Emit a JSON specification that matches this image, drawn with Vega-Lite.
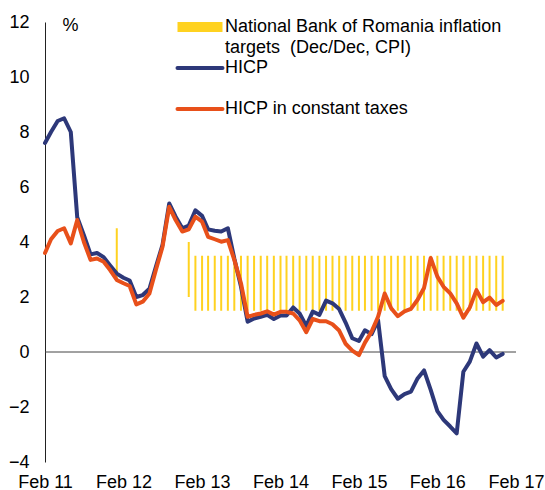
{
  "$schema": "https://vega.github.io/schema/vega-lite/v6.json",
  "width": 471,
  "height": 440,
  "autosize": {"type": "none"},
  "padding": {"left": 45, "top": 22, "right": 29, "bottom": 28},
  "background": "white",
  "config": {
    "font": "Liberation Sans",
    "view": {"stroke": null},
    "axis": {"labelFont": "Liberation Sans", "labelFontSize": 18, "labelColor": "#000", "titleFont": "Liberation Sans", "titleColor": "#000"},
    "legend": {"labelFont": "Liberation Sans", "labelColor": "#000"}
  },
  "datasets": {
    "series": [
      {"date": "2011-02-01", "HICP": 7.6, "HICP in constant taxes": 3.6},
      {"date": "2011-03-01", "HICP": 8.0, "HICP in constant taxes": 4.1},
      {"date": "2011-04-01", "HICP": 8.4, "HICP in constant taxes": 4.4},
      {"date": "2011-05-01", "HICP": 8.5, "HICP in constant taxes": 4.5},
      {"date": "2011-06-01", "HICP": 8.0, "HICP in constant taxes": 3.95},
      {"date": "2011-07-01", "HICP": 4.9, "HICP in constant taxes": 4.8},
      {"date": "2011-08-01", "HICP": 4.25, "HICP in constant taxes": 4.0},
      {"date": "2011-09-01", "HICP": 3.55, "HICP in constant taxes": 3.35},
      {"date": "2011-10-01", "HICP": 3.6, "HICP in constant taxes": 3.4},
      {"date": "2011-11-01", "HICP": 3.45, "HICP in constant taxes": 3.28},
      {"date": "2011-12-01", "HICP": 3.15, "HICP in constant taxes": 2.98},
      {"date": "2012-01-01", "HICP": 2.85, "HICP in constant taxes": 2.62},
      {"date": "2012-02-01", "HICP": 2.7, "HICP in constant taxes": 2.5},
      {"date": "2012-03-01", "HICP": 2.6, "HICP in constant taxes": 2.4},
      {"date": "2012-04-01", "HICP": 2.0, "HICP in constant taxes": 1.73},
      {"date": "2012-05-01", "HICP": 2.07, "HICP in constant taxes": 1.83},
      {"date": "2012-06-01", "HICP": 2.3, "HICP in constant taxes": 2.13},
      {"date": "2012-07-01", "HICP": 3.1, "HICP in constant taxes": 2.98},
      {"date": "2012-08-01", "HICP": 3.9, "HICP in constant taxes": 3.83},
      {"date": "2012-09-01", "HICP": 5.4, "HICP in constant taxes": 5.28},
      {"date": "2012-10-01", "HICP": 4.92, "HICP in constant taxes": 4.8},
      {"date": "2012-11-01", "HICP": 4.5, "HICP in constant taxes": 4.38},
      {"date": "2012-12-01", "HICP": 4.6, "HICP in constant taxes": 4.46},
      {"date": "2013-01-01", "HICP": 5.15, "HICP in constant taxes": 4.92},
      {"date": "2013-02-01", "HICP": 4.95, "HICP in constant taxes": 4.74},
      {"date": "2013-03-01", "HICP": 4.46, "HICP in constant taxes": 4.19},
      {"date": "2013-04-01", "HICP": 4.41, "HICP in constant taxes": 4.1},
      {"date": "2013-05-01", "HICP": 4.38, "HICP in constant taxes": 4.01},
      {"date": "2013-06-01", "HICP": 4.5, "HICP in constant taxes": 4.07},
      {"date": "2013-07-01", "HICP": 3.4, "HICP in constant taxes": 3.35},
      {"date": "2013-08-01", "HICP": 2.38, "HICP in constant taxes": 2.5},
      {"date": "2013-09-01", "HICP": 1.1, "HICP in constant taxes": 1.28},
      {"date": "2013-10-01", "HICP": 1.22, "HICP in constant taxes": 1.35},
      {"date": "2013-11-01", "HICP": 1.28, "HICP in constant taxes": 1.4},
      {"date": "2013-12-01", "HICP": 1.35, "HICP in constant taxes": 1.48},
      {"date": "2014-01-01", "HICP": 1.2, "HICP in constant taxes": 1.36},
      {"date": "2014-02-01", "HICP": 1.33, "HICP in constant taxes": 1.46},
      {"date": "2014-03-01", "HICP": 1.33, "HICP in constant taxes": 1.46},
      {"date": "2014-04-01", "HICP": 1.62, "HICP in constant taxes": 1.4},
      {"date": "2014-05-01", "HICP": 1.4, "HICP in constant taxes": 1.15},
      {"date": "2014-06-01", "HICP": 0.95, "HICP in constant taxes": 0.72},
      {"date": "2014-07-01", "HICP": 1.47, "HICP in constant taxes": 1.2},
      {"date": "2014-08-01", "HICP": 1.35, "HICP in constant taxes": 1.12},
      {"date": "2014-09-01", "HICP": 1.87, "HICP in constant taxes": 1.12},
      {"date": "2014-10-01", "HICP": 1.77, "HICP in constant taxes": 1.01},
      {"date": "2014-11-01", "HICP": 1.56, "HICP in constant taxes": 0.78},
      {"date": "2014-12-01", "HICP": 1.07, "HICP in constant taxes": 0.3},
      {"date": "2015-01-01", "HICP": 0.5, "HICP in constant taxes": 0.05},
      {"date": "2015-02-01", "HICP": 0.4, "HICP in constant taxes": -0.11},
      {"date": "2015-03-01", "HICP": 0.79, "HICP in constant taxes": 0.34},
      {"date": "2015-04-01", "HICP": 0.65, "HICP in constant taxes": 0.74},
      {"date": "2015-05-01", "HICP": 1.16, "HICP in constant taxes": 1.28},
      {"date": "2015-06-01", "HICP": -0.88, "HICP in constant taxes": 2.13},
      {"date": "2015-07-01", "HICP": -1.35, "HICP in constant taxes": 1.59},
      {"date": "2015-08-01", "HICP": -1.7, "HICP in constant taxes": 1.3},
      {"date": "2015-09-01", "HICP": -1.53, "HICP in constant taxes": 1.48},
      {"date": "2015-10-01", "HICP": -1.44, "HICP in constant taxes": 1.57},
      {"date": "2015-11-01", "HICP": -0.96, "HICP in constant taxes": 1.9},
      {"date": "2015-12-01", "HICP": -0.67, "HICP in constant taxes": 2.33},
      {"date": "2016-01-01", "HICP": -1.38, "HICP in constant taxes": 3.42},
      {"date": "2016-02-01", "HICP": -2.15, "HICP in constant taxes": 2.74},
      {"date": "2016-03-01", "HICP": -2.47, "HICP in constant taxes": 2.37},
      {"date": "2016-04-01", "HICP": -2.71, "HICP in constant taxes": 2.13},
      {"date": "2016-05-01", "HICP": -2.96, "HICP in constant taxes": 1.77},
      {"date": "2016-06-01", "HICP": -0.72, "HICP in constant taxes": 1.25},
      {"date": "2016-07-01", "HICP": -0.35, "HICP in constant taxes": 1.62},
      {"date": "2016-08-01", "HICP": 0.31, "HICP in constant taxes": 2.25},
      {"date": "2016-09-01", "HICP": -0.17, "HICP in constant taxes": 1.81},
      {"date": "2016-10-01", "HICP": 0.07, "HICP in constant taxes": 1.98},
      {"date": "2016-11-01", "HICP": -0.2, "HICP in constant taxes": 1.71},
      {"date": "2016-12-01", "HICP": -0.07, "HICP in constant taxes": 1.86}
    ],
    "targets": [
      {"date": "2012-01-01", "series": "NBR", "lo": 2.7, "hi": 4.5},
      {"date": "2012-12-01", "series": "NBR", "lo": 2.0, "hi": 4.0},
      {"date": "2013-01-01", "series": "NBR", "lo": 1.5, "hi": 3.5},
      {"date": "2013-02-01", "series": "NBR", "lo": 1.5, "hi": 3.5},
      {"date": "2013-03-01", "series": "NBR", "lo": 1.5, "hi": 3.5},
      {"date": "2013-04-01", "series": "NBR", "lo": 1.5, "hi": 3.5},
      {"date": "2013-05-01", "series": "NBR", "lo": 1.5, "hi": 3.5},
      {"date": "2013-06-01", "series": "NBR", "lo": 1.5, "hi": 3.5},
      {"date": "2013-07-01", "series": "NBR", "lo": 1.5, "hi": 3.5},
      {"date": "2013-08-01", "series": "NBR", "lo": 1.5, "hi": 3.5},
      {"date": "2013-09-01", "series": "NBR", "lo": 1.5, "hi": 3.5},
      {"date": "2013-10-01", "series": "NBR", "lo": 1.5, "hi": 3.5},
      {"date": "2013-11-01", "series": "NBR", "lo": 1.5, "hi": 3.5},
      {"date": "2013-12-01", "series": "NBR", "lo": 1.5, "hi": 3.5},
      {"date": "2014-01-01", "series": "NBR", "lo": 1.5, "hi": 3.5},
      {"date": "2014-02-01", "series": "NBR", "lo": 1.5, "hi": 3.5},
      {"date": "2014-03-01", "series": "NBR", "lo": 1.5, "hi": 3.5},
      {"date": "2014-04-01", "series": "NBR", "lo": 1.5, "hi": 3.5},
      {"date": "2014-05-01", "series": "NBR", "lo": 1.5, "hi": 3.5},
      {"date": "2014-06-01", "series": "NBR", "lo": 1.5, "hi": 3.5},
      {"date": "2014-07-01", "series": "NBR", "lo": 1.5, "hi": 3.5},
      {"date": "2014-08-01", "series": "NBR", "lo": 1.5, "hi": 3.5},
      {"date": "2014-09-01", "series": "NBR", "lo": 1.5, "hi": 3.5},
      {"date": "2014-10-01", "series": "NBR", "lo": 1.5, "hi": 3.5},
      {"date": "2014-11-01", "series": "NBR", "lo": 1.5, "hi": 3.5},
      {"date": "2014-12-01", "series": "NBR", "lo": 1.5, "hi": 3.5},
      {"date": "2015-01-01", "series": "NBR", "lo": 1.5, "hi": 3.5},
      {"date": "2015-02-01", "series": "NBR", "lo": 1.5, "hi": 3.5},
      {"date": "2015-03-01", "series": "NBR", "lo": 1.5, "hi": 3.5},
      {"date": "2015-04-01", "series": "NBR", "lo": 1.5, "hi": 3.5},
      {"date": "2015-05-01", "series": "NBR", "lo": 1.5, "hi": 3.5},
      {"date": "2015-06-01", "series": "NBR", "lo": 1.5, "hi": 3.5},
      {"date": "2015-07-01", "series": "NBR", "lo": 1.5, "hi": 3.5},
      {"date": "2015-08-01", "series": "NBR", "lo": 1.5, "hi": 3.5},
      {"date": "2015-09-01", "series": "NBR", "lo": 1.5, "hi": 3.5},
      {"date": "2015-10-01", "series": "NBR", "lo": 1.5, "hi": 3.5},
      {"date": "2015-11-01", "series": "NBR", "lo": 1.5, "hi": 3.5},
      {"date": "2015-12-01", "series": "NBR", "lo": 1.5, "hi": 3.5},
      {"date": "2016-01-01", "series": "NBR", "lo": 1.5, "hi": 3.5},
      {"date": "2016-02-01", "series": "NBR", "lo": 1.5, "hi": 3.5},
      {"date": "2016-03-01", "series": "NBR", "lo": 1.5, "hi": 3.5},
      {"date": "2016-04-01", "series": "NBR", "lo": 1.5, "hi": 3.5},
      {"date": "2016-05-01", "series": "NBR", "lo": 1.5, "hi": 3.5},
      {"date": "2016-06-01", "series": "NBR", "lo": 1.5, "hi": 3.5},
      {"date": "2016-07-01", "series": "NBR", "lo": 1.5, "hi": 3.5},
      {"date": "2016-08-01", "series": "NBR", "lo": 1.5, "hi": 3.5},
      {"date": "2016-09-01", "series": "NBR", "lo": 1.5, "hi": 3.5},
      {"date": "2016-10-01", "series": "NBR", "lo": 1.5, "hi": 3.5},
      {"date": "2016-11-01", "series": "NBR", "lo": 1.5, "hi": 3.5},
      {"date": "2016-12-01", "series": "NBR", "lo": 1.5, "hi": 3.5}
    ]
  },
  "encoding": {
    "x": {
      "field": "date",
      "type": "temporal",
      "scale": {
        "type": "utc",
        "domain": [
          {"year": 2011, "month": 2, "date": 1, "utc": true},
          {"year": 2017, "month": 2, "date": 1, "utc": true}
        ]
      },
      "axis": {
        "title": null,
        "domain": false,
        "ticks": false,
        "grid": false,
        "format": "%b %y",
        "labelFlush": false,
        "labelOverlap": false,
        "labelPadding": 11,
        "values": [
          {"year": 2011, "month": 2, "date": 1, "utc": true},
          {"year": 2012, "month": 2, "date": 1, "utc": true},
          {"year": 2013, "month": 2, "date": 1, "utc": true},
          {"year": 2014, "month": 2, "date": 1, "utc": true},
          {"year": 2015, "month": 2, "date": 1, "utc": true},
          {"year": 2016, "month": 2, "date": 1, "utc": true},
          {"year": 2017, "month": 2, "date": 1, "utc": true}
        ]
      }
    }
  },
  "layer": [
    {
      "data": {"name": "targets"},
      "mark": {"type": "rule", "strokeWidth": 2},
      "encoding": {
        "y": {
          "field": "lo",
          "type": "quantitative",
          "scale": {"domain": [-4, 12], "nice": false},
          "axis": {
            "values": [-4, -2, 0, 2, 4, 6, 8, 10, 12],
            "ticks": false,
            "grid": false,
            "domain": true,
            "domainColor": "#222",
            "domainWidth": 1,
            "labelPadding": 16,
            "title": "%",
            "titleAngle": 0,
            "titleX": 25,
            "titleY": 3,
            "titleFontSize": 18,
            "titleFontWeight": "normal",
            "titleAlign": "center",
            "titleBaseline": "middle"
          }
        },
        "y2": {"field": "hi"},
        "color": {
          "field": "series",
          "type": "nominal",
          "scale": {
            "domain": ["NBR", "HICP", "HICP in constant taxes"],
            "range": ["#FFD220", "#2D3879", "#E8501A"]
          },
          "legend": {
            "orient": "none",
            "legendX": 146,
            "legendY": -4,
            "title": null,
            "padding": 0,
            "symbolType": "stroke",
            "symbolSize": 2025,
            "symbolOffset": 0,
            "labelFontSize": 18,
            "labelOffset": 16,
            "labelLimit": 400,
            "rowPadding": 2,
            "labelExpr": "datum.value == 'NBR' ? ['National Bank of Romania inflation', 'targets\u00a0 (Dec/Dec, CPI)'] : [datum.value, '\u00a0']",
            "encode": {
              "symbols": {
                "update": {
                  "strokeWidth": {"signal": "datum.value == 'NBR' ? 10 : 4"},
                  "strokeCap": {"signal": "datum.value == 'NBR' ? 'butt' : 'round'"}
                }
              },
              "labels": {
                "update": {
                  "lineHeight": {"value": 21}
                }
              }
            }
          }
        }
      }
    },
    {
      "data": {"values": [{"zero": 0}]},
      "mark": {"type": "rule", "color": "#444", "strokeWidth": 1},
      "encoding": {"y": {"field": "zero", "type": "quantitative"}, "x": null}
    },
    {
      "data": {"name": "series"},
      "transform": [
        {"fold": ["HICP", "HICP in constant taxes"], "as": ["series", "value"]},
        {"filter": "datum.series == 'HICP'"}
      ],
      "mark": {"type": "line", "strokeWidth": 4, "strokeJoin": "round", "strokeCap": "round"},
      "encoding": {
        "y": {"field": "value", "type": "quantitative"},
        "color": {"field": "series", "type": "nominal"}
      }
    },
    {
      "data": {"name": "series"},
      "transform": [
        {"fold": ["HICP", "HICP in constant taxes"], "as": ["series", "value"]},
        {"filter": "datum.series == 'HICP in constant taxes'"}
      ],
      "mark": {"type": "line", "strokeWidth": 4, "strokeJoin": "round", "strokeCap": "round"},
      "encoding": {
        "y": {"field": "value", "type": "quantitative"},
        "color": {"field": "series", "type": "nominal"}
      }
    }
  ]
}
